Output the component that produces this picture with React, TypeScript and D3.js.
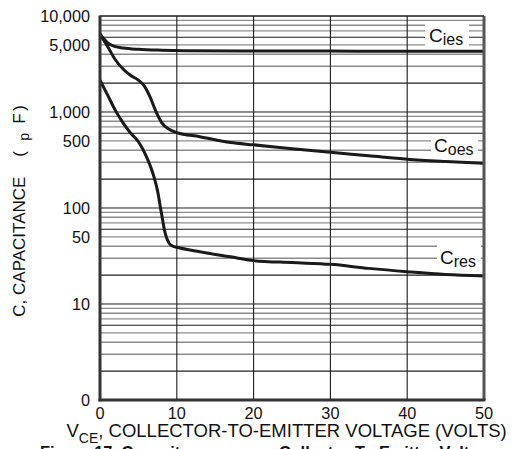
import React from "react";
import * as d3 from "d3";

const W = 517;
const H = 449;

// Data
const ciesX = [0, 0.5, 1, 2, 3, 5, 8, 11, 20, 30, 40, 50];
const ciesV = [6500, 5800, 5250, 4800, 4650, 4500, 4400, 4350, 4320, 4310, 4300, 4300];

const coesX = [0, 1, 2, 3, 4, 5, 5.8, 6.5, 7.2, 8, 9, 10, 13, 17, 20, 25, 30, 35, 40, 45, 50];
const coesV = [6400, 4800, 3500, 2800, 2400, 2150, 1850, 1450, 1050, 780, 660, 610, 553, 480, 455, 415, 380, 350, 322, 305, 292];

const cresX = [0, 1, 2, 3, 4, 5, 6, 7, 7.5, 8, 8.5, 9, 9.5, 10, 13, 17, 20, 25, 30, 35, 40, 45, 50];
const cresV = [2150, 1500, 1040, 770, 600, 490, 350, 215, 150, 88, 54, 43, 40, 39, 35, 31, 28.3, 27, 25.9, 23.5, 21.7, 20.3, 19.6];

const yTickValues = [10000, 5000, 1000, 500, 100, 50, 10, 1];
const yTickLabels = ["10,000", "5,000", "1,000", "500", "100", "50", "10", "0"];
const xTickValues = [0, 10, 20, 30, 40, 50];

const FONT = "'Liberation Sans', Arial, Helvetica, sans-serif";

export default function App() {
  const left = 100, right = 484, top = 16, bottom = 400;
  const x = d3.scaleLinear().domain([0, 50]).range([left, right]);
  const y = d3.scaleLog().domain([1, 10000]).range([bottom, top]);

  const grid: { v: number; dark: boolean }[] = [];
  [1, 10, 100, 1000].forEach((d) => {
    for (let m = 1; m <= 9; m++) {
      const v = d * m;
      if (v === 1) continue;
      grid.push({ v, dark: m === 1 || m === 2 || m === 6 });
    }
  });
  grid.push({ v: 10000, dark: true });

  const line = d3
    .line<[number, number]>()
    .x((d) => x(d[0]))
    .y((d) => y(d[1]))
    .curve(d3.curveMonotoneX);

  const series = [
    ciesX.map((v, i) => [v, ciesV[i]] as [number, number]),
    coesX.map((v, i) => [v, coesV[i]] as [number, number]),
    cresX.map((v, i) => [v, cresV[i]] as [number, number]),
  ];

  const labels = [
    { main: "C", sub: "ies", tx: 429, ty: 41.5, box: [425, 22, 44, 25] },
    { main: "C", sub: "oes", tx: 434, ty: 152, box: [431, 135, 47, 23] },
    { main: "C", sub: "res", tx: 440, ty: 264, box: [437, 245, 44, 24] },
  ];

  return (
    <svg
      width={W}
      height={H}
      style={{ position: "absolute", left: 0, top: 0, background: "#fff" }}
      fontFamily={FONT}
    >
      <defs>
        <clipPath id="plot">
          <rect x={left} y={top} width={right - left} height={bottom - top} />
        </clipPath>
      </defs>
      <rect x={0} y={0} width={W} height={H} fill="#fff" />

      {/* horizontal grid */}
      {grid
        .filter((g) => !g.dark)
        .map((g) => (
          <line key={"g" + g.v} x1={left} x2={right} y1={y(g.v)} y2={y(g.v)} stroke="#8c8c8c" strokeWidth={1.4} />
        ))}
      {grid
        .filter((g) => g.dark)
        .map((g) => (
          <line key={"d" + g.v} x1={left} x2={right} y1={y(g.v)} y2={y(g.v)} stroke="#1e1e1e" strokeWidth={1.1} />
        ))}

      {/* vertical grid */}
      {xTickValues.slice(1, -1).map((v) => (
        <line key={"v" + v} x1={x(v)} x2={x(v)} y1={top} y2={bottom} stroke="#1e1e1e" strokeWidth={1.1} />
      ))}

      {/* label backgrounds */}
      {labels.map((l, i) => (
        <rect key={"b" + i} x={l.box[0]} y={l.box[1]} width={l.box[2]} height={l.box[3]} fill="#fff" />
      ))}

      {/* curves */}
      <g clipPath="url(#plot)">
        {series.map((s, i) => (
          <path key={"s" + i} d={line(s) || ""} fill="none" stroke="#1a1a1a" strokeWidth={3} strokeLinejoin="round" />
        ))}
      </g>

      {/* frame */}
      <line x1={right} x2={right} y1={top} y2={bottom} stroke="#555" strokeWidth={3} />
      <line x1={left} x2={right} y1={top} y2={top} stroke="#1e1e1e" strokeWidth={1.2} />
      <line x1={left} x2={left} y1={top - 0.5} y2={bottom + 1.5} stroke="#333" strokeWidth={3} />
      <line x1={left - 1.5} x2={right + 1.5} y1={bottom} y2={bottom} stroke="#333" strokeWidth={3} />

      {/* curve labels */}
      {labels.map((l, i) => (
        <text key={"l" + i} x={l.tx} y={l.ty} fill="#111" fontSize={19}>
          {l.main}
          <tspan fontSize={16} dy={3}>
            {l.sub}
          </tspan>
        </text>
      ))}

      {/* y tick labels */}
      {yTickValues.map((v, i) => (
        <text key={"yt" + i} x={90} y={y(v)} dy="0.36em" textAnchor="end" fontSize={16.3} fill="#111">
          {yTickLabels[i]}
        </text>
      ))}

      {/* x tick labels */}
      {xTickValues.map((v) => (
        <text key={"xt" + v} x={x(v)} y={419} textAnchor="middle" fontSize={16.3} fill="#111">
          {v}
        </text>
      ))}

      {/* x axis title */}
      <text x={66.5} y={437} fontSize={18.5} fill="#111">
        V
        <tspan fontSize={14} dy={6}>
          CE
        </tspan>
        <tspan dy={-6}>, COLLECTOR-TO-EMITTER VOLTAGE (VOLTS)</tspan>
      </text>

      {/* y axis title */}
      <g transform={`translate(25, 316.7) rotate(-90)`}>
        <text x={0} y={0} fontSize={17} fill="#111">
          C, CAPACITANCE
          <tspan x={160}>(</tspan>
          <tspan x={176} fontSize={14} dy={4}>
            p
          </tspan>
          <tspan x={193} dy={-4}>
            F
          </tspan>
          <tspan x={206}>)</tspan>
        </text>
      </g>

      {/* caption, cut off by the bottom edge */}
      <text x={40} y={457.5} fontSize={16.3} fontWeight="bold" fill="#111">
        Figure 17. Capacitance versus Collector-To-Emitter Voltage
      </text>
    </svg>
  );
}
